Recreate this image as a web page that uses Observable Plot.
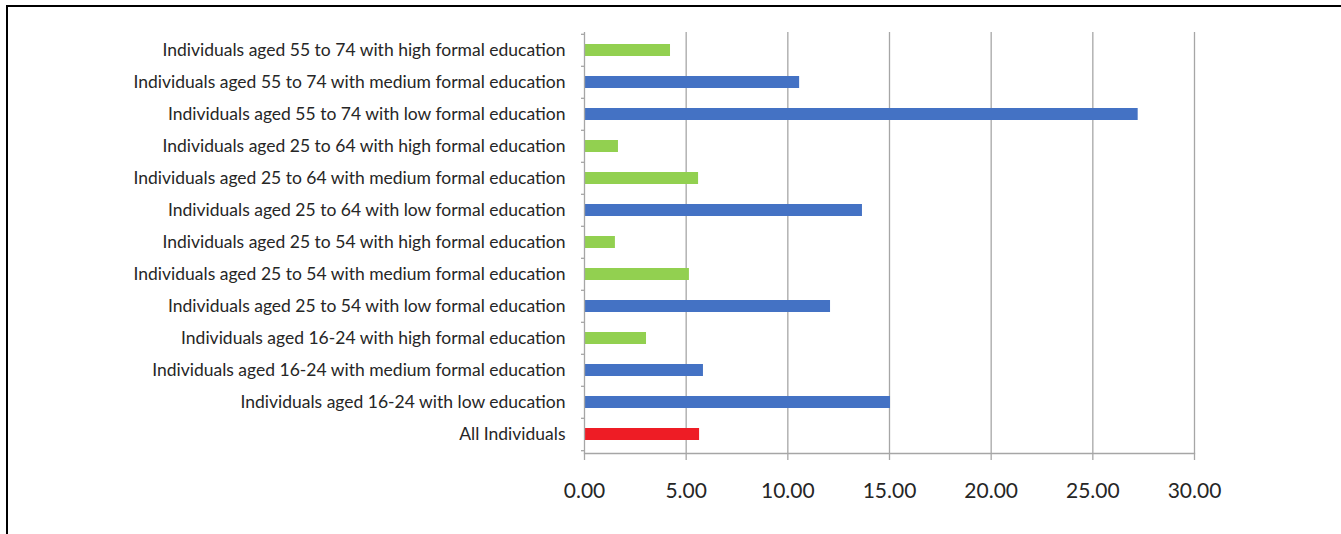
<!DOCTYPE html>
<html>
<head>
<meta charset="utf-8">
<script src="https://cdn.jsdelivr.net/npm/d3@7"></script>
<script src="https://cdn.jsdelivr.net/npm/@observablehq/plot@0.6"></script>
<style>
  html, body { margin: 0; padding: 0; background: #fff; }
  #wrap { position: relative; width: 1341px; height: 534px; overflow: hidden; }
  #border { position: absolute; left: 6px; top: 5px; right: -10px; bottom: -10px;
            border-top: 2px solid #000; border-left: 2px solid #000; }
  #chart { position: absolute; left: 0; top: 0; }
</style>
</head>
<body>
<div id="wrap"><div id="border"></div><div id="chart"></div></div>
<script>
// Categories, listed top to bottom
const categories = [
  "Individuals aged 55 to 74 with high formal education",
  "Individuals aged 55 to 74 with medium formal education",
  "Individuals aged 55 to 74 with low formal education",
  "Individuals aged 25 to 64 with high formal education",
  "Individuals aged 25 to 64 with medium formal education",
  "Individuals aged 25 to 64 with low formal education",
  "Individuals aged 25 to 54 with high formal education",
  "Individuals aged 25 to 54 with medium formal education",
  "Individuals aged 25 to 54 with low formal education",
  "Individuals aged 16-24 with high formal education",
  "Individuals aged 16-24 with medium formal education",
  "Individuals aged 16-24 with low education",
  "All Individuals"
];

// Percentage values for each category
const values = [4.23, 10.58, 27.23, 1.67, 5.61, 13.67, 1.52, 5.16, 12.10, 3.05, 5.85, 15.05, 5.66];

// Group of each bar: relative to the all-individuals figure
const groups = ["below", "above", "above", "below", "below", "above", "below", "below", "above", "below", "above", "above", "all"];

const groupNames = ["above", "below", "all"];
const groupColors = ["#4472C4", "#92D050", "#EE1C25"];

const xTicks = [0, 5, 10, 15, 20, 25, 30];

const data = categories.map((c, i) => ({category: c, value: values[i], group: groups[i]}));

const W = 1341, H = 534;
const mTop = 32, mBottom = 81, mLeft = 584, mRight = 147;
const step = (H - mTop - mBottom) / categories.length;
const gray = "#a6a6a6";
const fmt = d => d.toFixed(2);

const chart = Plot.plot({
  width: W,
  height: H,
  marginTop: mTop,
  marginBottom: mBottom,
  marginLeft: mLeft,
  marginRight: mRight,
  style: {fontFamily: "Lato, 'Open Sans', sans-serif", background: "transparent", color: "#262626"},
  x: {domain: [0, 30], label: null},
  y: {domain: categories, paddingInner: 0.61, paddingOuter: 0.305, label: null},
  color: {domain: groupNames, range: groupColors},
  marks: [
    Plot.gridX(xTicks.filter(d => d > 0), {stroke: gray, strokeOpacity: 1, strokeWidth: 1.3}),
    Plot.barX(data, {x: "value", y: "category", fill: "group"}),
    Plot.ruleX([0], {stroke: gray, strokeWidth: 1.3}),
    Plot.frame({anchor: "bottom", stroke: gray, strokeWidth: 1.3}),
    Plot.axisX({ticks: xTicks, tickFormat: fmt, tickSize: 7, tickPadding: 23, fontSize: 21, stroke: gray, strokeWidth: 1.3, label: null}),
    Plot.axisY({tickSize: 0, tickPadding: 19, fontSize: 17.5, label: null}),
    Plot.axisY({tickSize: 3, tickFormat: () => "", dy: -step / 2, stroke: gray, strokeWidth: 1.3, label: null}),
    Plot.axisY({ticks: [categories[categories.length - 1]], tickSize: 3, tickFormat: () => "", dy: step / 2, stroke: gray, strokeWidth: 1.3, label: null})
  ]
});

document.getElementById("chart").appendChild(chart);
</script>
</body>
</html>
